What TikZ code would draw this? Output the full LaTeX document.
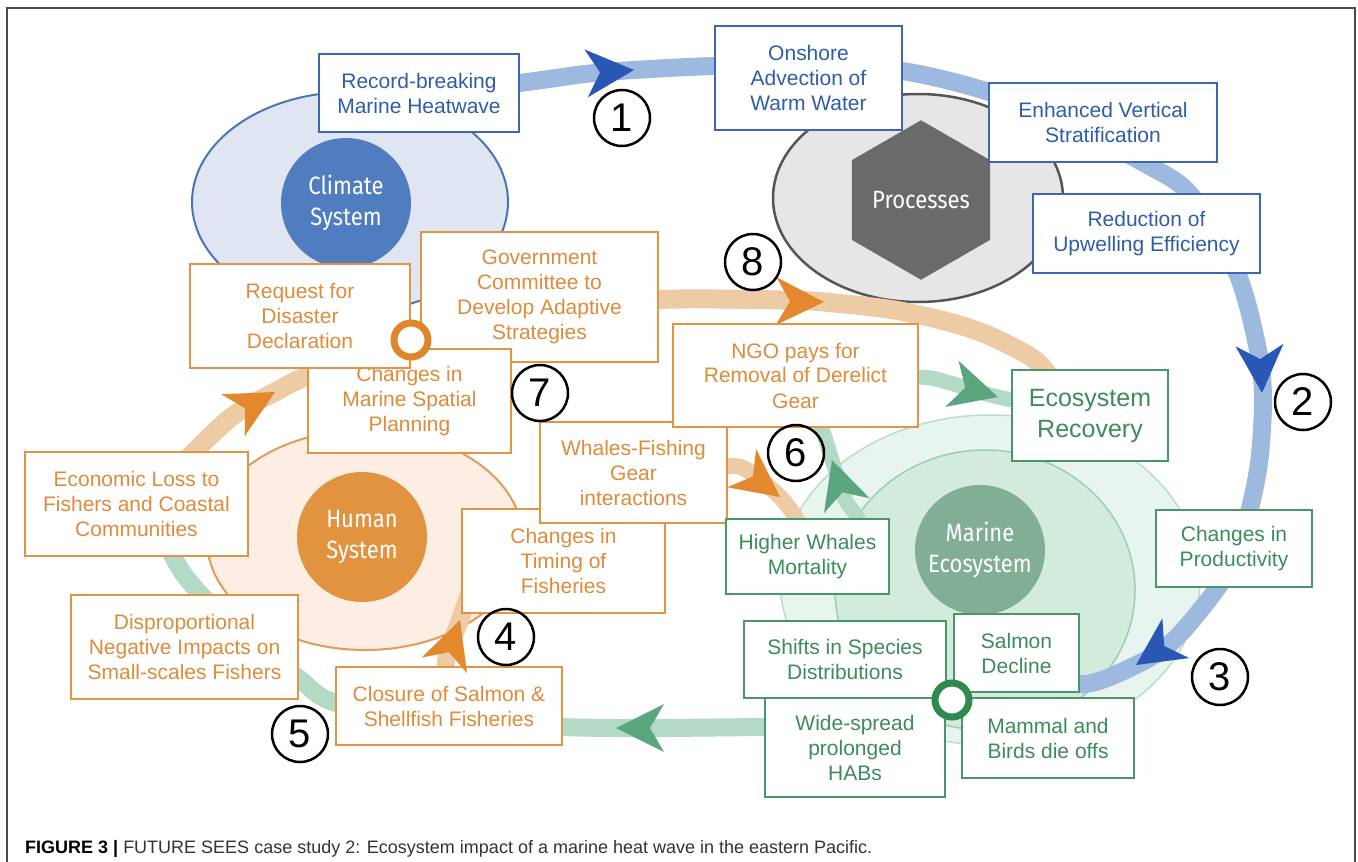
\documentclass[tikz,border=0pt]{standalone}
\usepackage{fontspec}
\setmainfont{Liberation Sans}
\newfontfamily\condfont[FakeStretch=0.88]{Fira Sans}
\usetikzlibrary{shapes.geometric}

% palette
\definecolor{climfill}{HTML}{DFE6F2}
\definecolor{climline}{HTML}{4A74B8}
\definecolor{climcirc}{HTML}{4F7DC0}
\definecolor{procfill}{HTML}{E6E6E6}
\definecolor{procline}{HTML}{555555}
\definecolor{hexgrey}{HTML}{6A6A6A}
\definecolor{humfill}{HTML}{FCEEE2}
\definecolor{humline}{HTML}{E29C5A}
\definecolor{humcirc}{HTML}{E1933F}
\definecolor{maroutfill}{HTML}{E8F4EE}
\definecolor{maroutline}{HTML}{B9DECB}
\definecolor{marinfill}{HTML}{D3EBDD}
\definecolor{marinline}{HTML}{9DCDB3}
\definecolor{marcirc}{HTML}{82AE96}
\definecolor{blueband}{HTML}{9DB9DF}
\definecolor{bluehead}{HTML}{2A57B6}
\definecolor{bluetext}{HTML}{2F5EA9}
\definecolor{blueline}{HTML}{3C68B2}
\definecolor{orangeband}{HTML}{EDCBA5}
\definecolor{orangehead}{HTML}{E3882D}
\definecolor{orangetext}{HTML}{DE8B3B}
\definecolor{orangeline}{HTML}{E09444}
\definecolor{orangering}{HTML}{E0862A}
\definecolor{greenband}{HTML}{B2DAC5}
\definecolor{greenhead}{HTML}{5CA67F}
\definecolor{greentext}{HTML}{3C8C5C}
\definecolor{greenline}{HTML}{4A9569}
\definecolor{greenring}{HTML}{2E8A4E}
\definecolor{framegrey}{HTML}{4A4A4A}
\definecolor{capgrey}{HTML}{333333}

\begin{document}
\begin{tikzpicture}[x=1pt,y=-1pt,
  box/.style={draw, fill=white, line width=2pt, inner sep=0pt, align=center,
    font=\fontsize{21}{25}\selectfont},
  bluebox/.style={box, draw=blueline, text=bluetext},
  orangebox/.style={box, draw=orangeline, text=orangetext},
  greenbox/.style={box, draw=greenline, text=greentext},
  size/.style 2 args={minimum width=#1, minimum height=#2},
  numc/.style={circle, draw=black, line width=2.5pt, minimum size=56pt,
    inner sep=0pt, font=\fontsize{40}{40}\selectfont},
  sysc/.style={circle, inner sep=0pt, minimum size=130pt, text=white,
    align=center, font=\condfont\fontsize{25}{31}\selectfont},
  backell/.style={ellipse, inner sep=0pt, line width=2pt},
  ring/.style={circle, fill=white, line width=7pt, minimum size=34pt, inner sep=0pt},
  bandblue/.style={draw=blueband, line width=18pt},
  bandorange/.style={draw=orangeband, line width=19pt},
  bandgreen/.style={draw=greenband, line width=18pt},
  bandgreenthin/.style={draw=greenband, line width=15pt},
  pics/flowtip/.style={code={\fill[#1] (0,0) -- (-48,-24) -- (-34,0) -- (-48,24) -- cycle;}}
]
\useasboundingbox (0,0) rectangle (1358,862);

% ---- background systems ----
\node[backell, draw=climline, fill=climfill, minimum width=316pt, minimum height=220pt] (climback) at (350,202) {};
\node[backell, draw=procline, fill=procfill, line width=2.5pt, minimum width=290pt, minimum height=208pt] (procback) at (918,198) {};
\node[backell, draw=humline, fill=humfill, minimum width=316pt, minimum height=220pt] (humback) at (365,540) {};
\node[backell, draw=maroutline, fill=maroutfill, line width=1.5pt, minimum width=420pt, minimum height=330pt] (marout) at (990,580) {};
\node[backell, draw=marinline, fill=marinfill, line width=1.5pt, minimum width=300pt, minimum height=280pt] (marin) at (985,590) {};

\node[sysc, fill=climcirc] (climate) at (346,203) {Climate\\System};
\node[regular polygon, regular polygon sides=6, shape border rotate=30, minimum size=144pt,
  inner sep=0pt, fill=hexgrey, text=white, font=\condfont\fontsize{25}{31}\selectfont] (proc) at (921,200) {Processes};
\node[sysc, fill=humcirc] (human) at (362,537) {Human\\System};
\node[sysc, fill=marcirc] (marine) at (980,550) {Marine\\Ecosystem};

% ---- box centres used as band ends ----
\coordinate (recc) at (419,93);
\coordinate (salmonc) at (1016.5,653);
\coordinate (closurec) at (449,706);
\coordinate (whalesc) at (633.5,472.5);
\coordinate (hwc) at (807.5,556.5);
\coordinate (ngoc) at (795.5,375.5);
\coordinate (ecoc) at (1090,415.5);

% ---- flow bands (behind the boxes) ----
\draw[bandblue] plot[smooth, tension=0.5] coordinates {(recc) (519,83) (585,74) (634,70)
  (715,66) (808,66) (902,71) (989,92) (1070,125) (1142,162) (1190,194) (1237,273) (1258,350)
  (1263,400) (1258,470) (1240,545) (1218,587) (1175,639) (1136,665) (1079,684) (salmonc)};
\draw[bandorange] plot[smooth, tension=0.5] coordinates {(160,490) (194,452) (234,415) (275,392)
  (308,376) (400,345) (500,318) (600,303) (680,299) (781,300) (824,302) (900,311) (975,330)
  (1035,360) (1062,395)};
\draw[bandgreen] plot[smooth, tension=0.5] coordinates {(820,727) (765,727) (665,728) (616,728)
  (562,727) (450,722) (336,703) (297,677) (240,635) (185,576) (160,530)};
\draw[bandorange, line width=18pt] plot[smooth, tension=0.5] coordinates {(closurec) (446,661) (460,620) (472,585)};
\draw[bandorange, line width=16pt] plot[smooth, tension=0.5] coordinates {(whalesc) (727,466) (750,472) (780,497) (798,522) (hwc)};
\draw[bandgreenthin] plot[smooth, tension=0.5] coordinates {(862,548) (858,519) (845,499) (832,460) (821,427) (ngoc)};
\draw[bandgreenthin] plot[smooth, tension=0.5] coordinates {(ngoc) (918,377) (950,383) (998,397) (ecoc)};

% ---- physical drivers ----
\node[bluebox, size={200pt}{78pt}] (rec) at (recc) {Record-breaking\\Marine Heatwave};
\node[bluebox, size={187pt}{104pt}] (onshore) at (808.5,78) {Onshore\\Advection of\\Warm Water};
\node[bluebox, size={228pt}{79pt}] (enhanced) at (1103,122.5) {Enhanced Vertical\\Stratification};
\node[bluebox, size={227pt}{79pt}] (reduction) at (1146.5,233.5) {Reduction of\\Upwelling Efficiency};

% ---- human responses ----
\node[orangebox, size={237pt}{130pt}] (gov) at (539.5,297) {Government\\Committee to\\Develop Adaptive\\Strategies};
\node[orangebox, size={203pt}{104pt}] (marinesp) at (409.5,401) {Changes in\\Marine Spatial\\Planning};
\node[orangebox, size={220pt}{104pt}] (request) at (300,316) {Request for\\Disaster\\Declaration};
\node[orangebox, size={203pt}{104pt}] (timing) at (563.5,561) {Changes in\\Timing of\\Fisheries};
\node[orangebox, size={187pt}{101pt}] (whales) at (whalesc) {Whales-Fishing\\Gear\\interactions};
\node[orangebox, size={245pt}{103pt}] (ngo) at (ngoc) {NGO pays for\\Removal of Derelict\\Gear};
\node[orangebox, size={223pt}{104pt}] (econ) at (136.5,504) {Economic Loss to\\Fishers and Coastal\\Communities};
\node[orangebox, size={227pt}{104pt}] (dispro) at (184.5,647) {Disproportional\\Negative Impacts on\\Small-scales Fishers};
\node[orangebox, size={226pt}{78pt}] (closure) at (closurec) {Closure of Salmon \&\\Shellfish Fisheries};

% ---- ecosystem responses ----
\node[greenbox, size={156pt}{91pt}, font=\fontsize{25}{31}\selectfont] (eco) at (ecoc) {Ecosystem\\Recovery};
\node[greenbox, size={163pt}{75pt}] (hw) at (hwc) {Higher Whales\\Mortality};
\node[greenbox, size={156pt}{77pt}] (prod) at (1234,548.5) {Changes in\\Productivity};
\node[greenbox, size={202pt}{77pt}] (shifts) at (845,659.5) {Shifts in Species\\Distributions};
\node[greenbox, size={125pt}{78pt}] (salmon) at (salmonc) {Salmon\\Decline};
\node[greenbox, size={180pt}{99pt}] (wide) at (855,747.5) {Wide-spread\\prolonged\\HABs};
\node[greenbox, size={172pt}{80pt}] (mammal) at (1048,738) {Mammal and\\Birds die offs};

% ---- junction rings ----
\node[ring, draw=orangering] (oring) at (411,340) {};
\node[ring, draw=greenring] (gring) at (952,700) {};

% ---- arrowheads ----
\pic[rotate=4] at (634,70) {flowtip=bluehead};
\pic[rotate=-87] at (1262,393) {flowtip=bluehead};
\pic[rotate=-146] at (1136,665) {flowtip=bluehead};
\pic[rotate=71] at (460,620) {flowtip=orangehead};
\pic[rotate=180] at (616,728) {flowtip=greenhead};
\pic[rotate=-37] at (780,497) {flowtip=orangehead};
\pic[rotate=108] at (832,460) {flowtip=greenhead};
\pic[rotate=-1] at (824,302) {flowtip=orangehead};
\pic[rotate=29] at (275,392) {flowtip=orangehead};
\pic[rotate=-16] at (998,397) {flowtip=greenhead};

% ---- step numbers ----
\node[numc] (n1) at (622,118) {1};
\node[numc] (n2) at (1303,402) {2};
\node[numc] (n3) at (1220,677) {3};
\node[numc] (n4) at (506,637) {4};
\node[numc] (n5) at (300,734) {5};
\node[numc] (n6) at (796,453) {6};
\node[numc] (n7) at (540,393) {7};
\node[numc] (n8) at (753,262) {8};

% ---- frame (open at the foot) and caption ----
\draw[framegrey, line width=1.5pt] (7,862) -- (7,8) -- (1355,8) -- (1355,862);
\node[anchor=base west, inner sep=0pt, text=capgrey, font=\fontsize{18}{22}\selectfont] (caption) at (25,853)
  {\textbf{\color{black}FIGURE 3 |} FUTURE SEES case study 2: Ecosystem impact of a marine heat wave in the eastern Pacific.};
\end{tikzpicture}
\end{document}
